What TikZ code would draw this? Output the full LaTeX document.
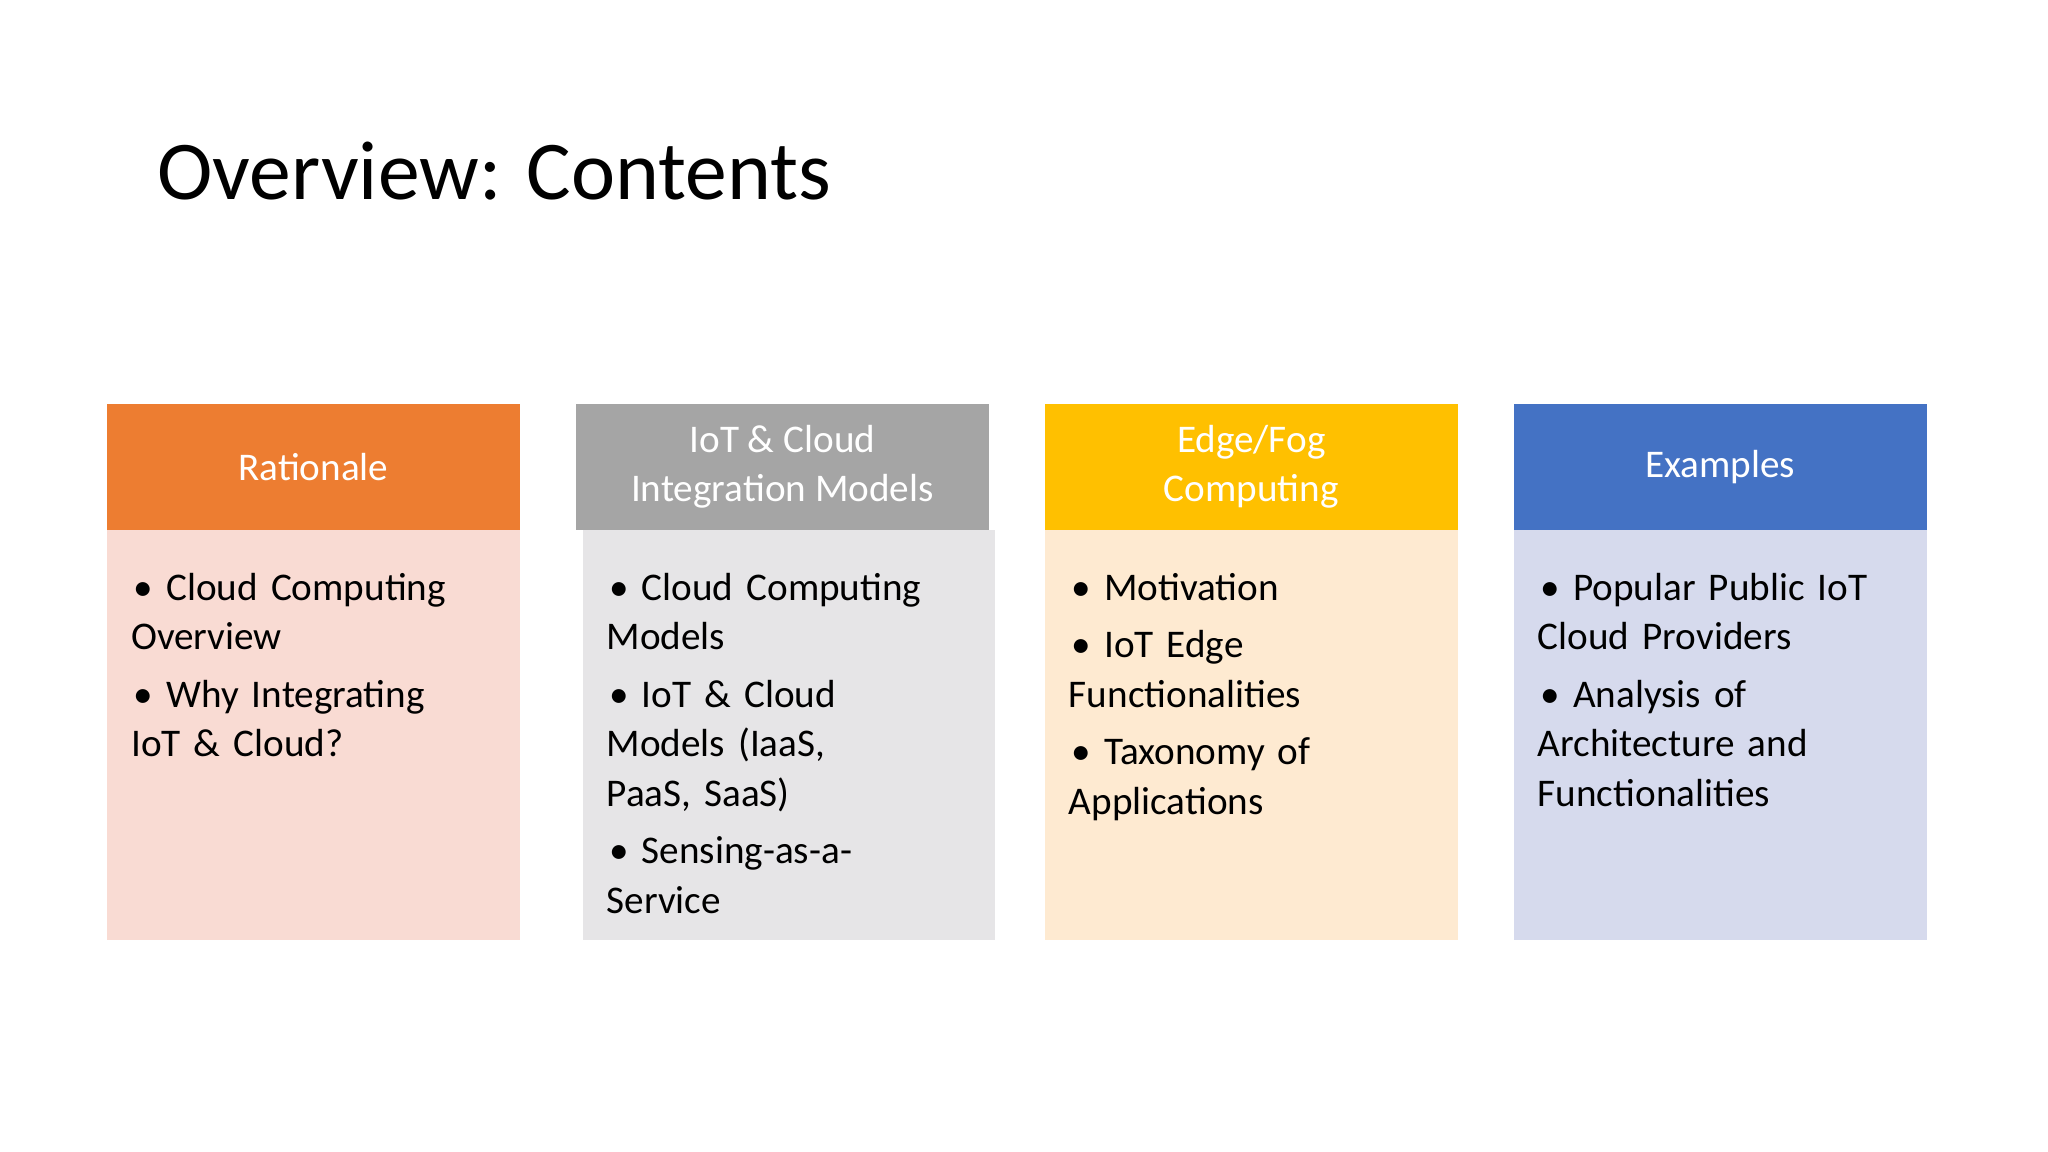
\documentclass[tikz,border=0pt]{standalone}
\usepackage{fontspec}
\setmainfont{Carlito}
\definecolor{c1h}{HTML}{ED7D31}\definecolor{c1b}{HTML}{F9DBD3}
\definecolor{c2h}{HTML}{A5A5A5}\definecolor{c2b}{HTML}{E6E5E7}
\definecolor{c3h}{HTML}{FFC000}\definecolor{c3b}{HTML}{FEEAD1}
\definecolor{c4h}{HTML}{4472C4}\definecolor{c4b}{HTML}{D6DAED}
\newcommand{\bitem}[1]{\par\noindent\hangindent=13.5pt\hbox to 13.5pt{\kern1pt\textbullet\hfil}#1\par\vspace{3pt}}
\tikzset{x=0.5pt,y=-0.5pt,
 hdr/.style={align=center,text=white,font=\fontsize{15}{19}\selectfont},
 body/.style={anchor=north west,inner sep=0pt,text width=160pt,font=\fontsize{15}{19}\selectfont}}
\begin{document}
\begin{tikzpicture}
\useasboundingbox (0,0) rectangle (1568,882);
\fill[white] (0,0) rectangle (1568,882);
\node[anchor=base west,inner sep=0pt,font=\fontsize{32}{38}\selectfont] (title) at (120,153) {Overview: Contents};
% boxes
\fill[c1b] (82,406) rectangle (398,720); \fill[c1h] (82,309) rectangle (398,406);
\fill[c2b] (446,406) rectangle (762,720); \fill[c2h] (441,309) rectangle (757,406);
\fill[c3b] (800,406) rectangle (1116,720); \fill[c3h] (800,309) rectangle (1116,406);
\fill[c4b] (1159,406) rectangle (1475,720); \fill[c4h] (1159,309) rectangle (1475,406);
\node[hdr] (h1) at (240,357.5) {Rationale};
\node[hdr] (h2) at (599,357.5) {IoT \& Cloud\\Integration Models};
\node[hdr] (h3) at (958,357.5) {Edge/Fog\\Computing};
\node[hdr] (h4) at (1317,357.5) {Examples};
\node[body] (b1) at (100,421) {\bitem{Cloud Computing\\Overview}\bitem{Why Integrating\\IoT \& Cloud?}};
\node[body] (b2) at (464,421) {\bitem{Cloud Computing\\Models}\bitem{IoT \& Cloud\\Models (IaaS,\\PaaS, SaaS)}\bitem{Sensing-as-a-\\Service}};
\node[body] (b3) at (818,421) {\bitem{Motivation}\bitem{IoT Edge\\Functionalities}\bitem{Taxonomy of\\Applications}};
\node[body] (b4) at (1177,421) {\bitem{Popular Public IoT\\Cloud Providers}\bitem{Analysis of\\Architecture and\\Functionalities}};
\end{tikzpicture}
\end{document}
